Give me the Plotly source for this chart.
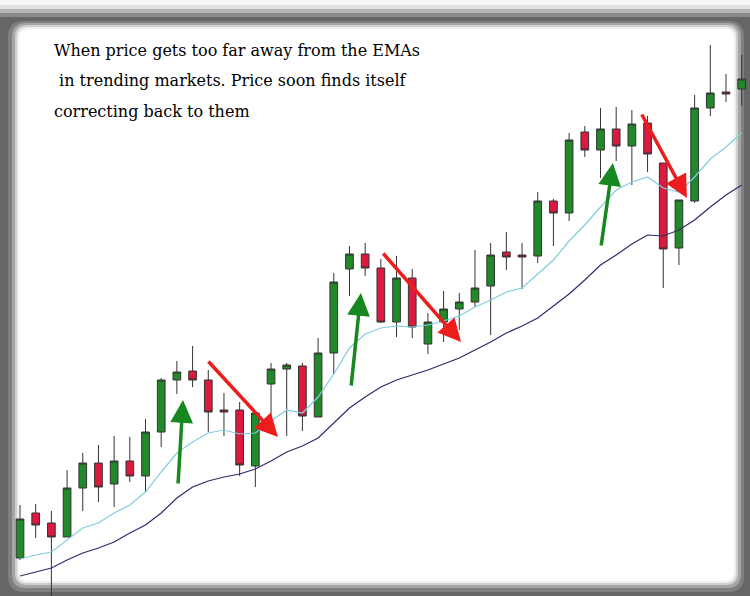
import plotly.graph_objects as go

W, H = 750, 596

# candle index -> OHLC (price units)
opens = [42, 87, 77, 63, 112, 137, 116, 139, 124, 168, 220, 229, 220, 190, 190, 134,
         216, 231, 234, 183, 247, 331, 346, 332, 278, 322, 256, 278, 291, 298, 314, 348,
         345, 344, 399, 387, 468, 450, 471, 454, 477, 437, 352, 399, 492, 508, 511]
highs = [95, 96, 89, 130, 147, 155, 164, 163, 181, 222, 239, 254, 230, 207, 198, 187,
         237, 237, 237, 262, 327, 354, 357, 341, 344, 331, 287, 309, 307, 350, 357, 368,
         357, 408, 401, 467, 474, 492, 493, 490, 484, 437, 400, 505, 555, 526, 545]
lows = [40, 62, -5, 63, 89, 98, 93, 118, 108, 153, 206, 213, 168, 164, 124, 113,
        183, 164, 169, 183, 226, 304, 324, 277, 263, 262, 246, 258, 270, 293, 265, 330,
        311, 337, 354, 379, 443, 422, 439, 415, 428, 312, 335, 397, 484, 498, 494]
closes = [81, 75, 63, 112, 137, 113, 139, 124, 168, 220, 228, 220, 188, 188, 135, 187,
          231, 235, 184, 247, 318, 346, 332, 278, 322, 273, 278, 291, 298, 312, 345, 343,
          343, 399, 387, 460, 450, 471, 454, 476, 446, 351, 400, 492, 507, 506, 521]

ema_fast = [41, 45, 48, 60, 72, 77, 87, 95, 108, 128, 147, 158, 167, 170, 166, 167,
            179, 190, 187, 203, 226, 252, 266, 272, 274, 273, 275, 279, 284, 293, 300, 308,
            312, 326, 340, 359, 375, 393, 410, 418, 423, 412, 408, 423, 441, 453, 467]
ema_slow = [24, 28, 32, 40, 47, 52, 58, 67, 75, 87, 102, 113, 119, 123, 126, 131,
            139, 148, 154, 162, 177, 192, 203, 213, 220, 225, 230, 236, 242, 250, 258, 267,
            274, 282, 294, 306, 320, 335, 345, 356, 365, 364, 370, 380, 393, 405, 415]

idx = list(range(len(opens)))

# arrows: (tail x, tail y, tip x, tip y, colour)
arrows = [
    (10.07, 115, 10.39, 200, '#17871f'),
    (11.92, 240, 16.44, 163, '#ee1d1d'),
    (21.10, 213, 21.73, 307, '#17871f'),
    (23.07, 348, 28.11, 258, '#ee1d1d'),
    (37.03, 353, 37.79, 437, '#17871f'),
    (39.58, 487, 42.51, 402, '#ee1d1d'),
]

note_lines = [
    'When price gets too far away from the EMAs',
    ' in trending markets. Price soon finds itself',
    'correcting back to them',
]


def rrect(x0, y0, x1, y1, r, color):
    # rounded rectangle given in pixels, drawn in paper coords
    X = lambda px: px / W
    Y = lambda py: 1 - py / H
    path = (f'M {X(x0 + r)},{Y(y0)} L {X(x1 - r)},{Y(y0)} Q {X(x1)},{Y(y0)} {X(x1)},{Y(y0 + r)} '
            f'L {X(x1)},{Y(y1 - r)} Q {X(x1)},{Y(y1)} {X(x1 - r)},{Y(y1)} '
            f'L {X(x0 + r)},{Y(y1)} Q {X(x0)},{Y(y1)} {X(x0)},{Y(y1 - r)} '
            f'L {X(x0)},{Y(y0 + r)} Q {X(x0)},{Y(y0)} {X(x0 + r)},{Y(y0)} Z')
    return dict(type='path', path=path, xref='paper', yref='paper', layer='below',
                fillcolor=color, line=dict(width=0))


fig = go.Figure()

fig.add_trace(go.Scatter(x=idx, y=ema_slow, mode='lines', line=dict(color='#2c2c6c', width=1.2),
                         showlegend=False, hoverinfo='skip'))
fig.add_trace(go.Scatter(x=idx, y=ema_fast, mode='lines', line=dict(color='#7fcfdf', width=1.2),
                         showlegend=False, hoverinfo='skip'))

fig.add_trace(go.Candlestick(
    x=idx, open=opens, high=highs, low=lows, close=closes,
    increasing=dict(line=dict(color='#333333', width=1), fillcolor='#22892b'),
    decreasing=dict(line=dict(color='#333333', width=1), fillcolor='#dc1a3f'),
    showlegend=False
))

for ax_, ay_, x_, y_, c in arrows:
    fig.add_annotation(x=x_, y=y_, ax=ax_, ay=ay_, xref='x', yref='y', axref='x', ayref='y',
                       text='', showarrow=True, arrowhead=2, arrowsize=1.3, arrowwidth=3.5,
                       arrowcolor=c)

for i, txt in enumerate(note_lines):
    fig.add_annotation(x=52 / W, y=1 - (50 + 30.5 * i) / H, xref='paper', yref='paper',
                       text=txt, showarrow=False, xanchor='left', yanchor='middle',
                       font=dict(family='DejaVu Serif', size=16, color='#000000'))

shapes = [
    rrect(-20, 5, 770, 620, 22, '#e2e2e2'),
    rrect(-20, 9, 770, 620, 20, '#b4b4b4'),
    rrect(-20, 13, 770, 620, 18, '#8a8a8a'),
    rrect(-20, 17, 770, 620, 16, '#666666'),
    rrect(8, 21, 744, 592, 16, '#808080'),
    rrect(12, 23, 741, 588, 14, '#a6a6a6'),
    rrect(15, 25, 738, 585, 12, '#cfcfcf'),
    rrect(17, 27, 736, 583, 10, '#eeeeee'),
    rrect(19, 29, 734, 581, 9, '#ffffff'),
]

fig.update_layout(
    width=W, height=H, autosize=False,
    margin=dict(l=0, r=0, t=0, b=0),
    paper_bgcolor='#f7f7f7', plot_bgcolor='rgba(0,0,0,0)',
    shapes=shapes,
    xaxis=dict(range=[-1.275, 46.53], visible=False, rangeslider=dict(visible=False),
               fixedrange=True),
    yaxis=dict(range=[4, 600], visible=False, fixedrange=True),
)

# drop the browser's default 8px body margin so the figure fills the window
fig.write_html('out.html', config={'displayModeBar': False},
               post_script="document.body.style.margin='0';document.body.style.overflow='hidden';")
